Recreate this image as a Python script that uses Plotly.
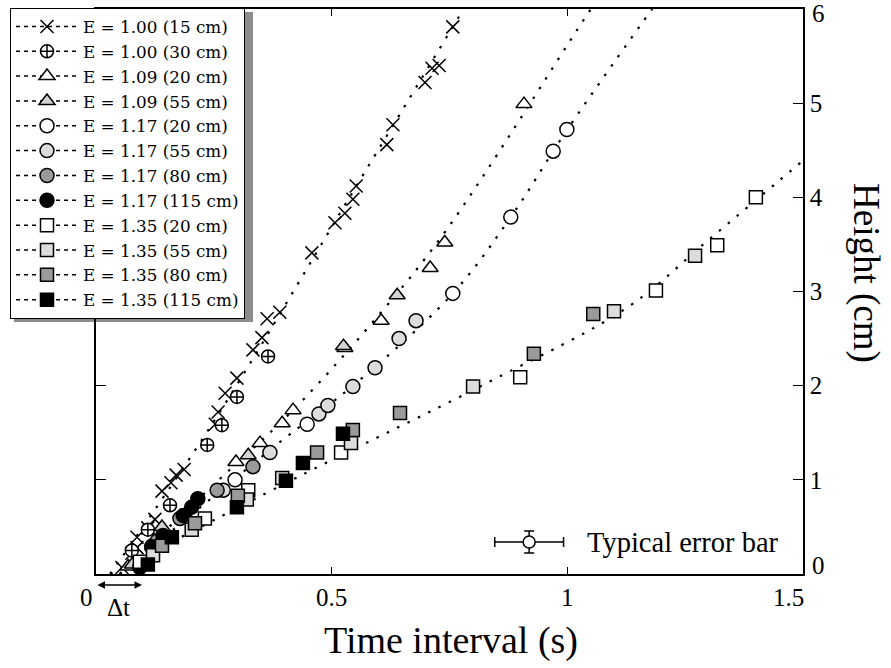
import plotly.graph_objects as go

# ---------------- data ----------------
t_e100_15 = [0.055, 0.076, 0.087, 0.087, 0.110, 0.125, 0.140, 0.159, 0.170, 0.187, 0.253, 0.259, 0.274, 0.299, 0.333, 0.352, 0.363, 0.390, 0.458, 0.507, 0.528, 0.545, 0.552, 0.617, 0.630, 0.698, 0.713, 0.728, 0.757]
h_e100_15 = [0.07, 0.22, 0.28, 0.39, 0.49, 0.58, 0.88, 0.97, 1.05, 1.11, 1.59, 1.72, 1.92, 2.08, 2.38, 2.51, 2.71, 2.78, 3.41, 3.73, 3.83, 3.98, 4.12, 4.56, 4.77, 5.22, 5.37, 5.40, 5.81]

t_e100_30 = [0.076, 0.110, 0.157, 0.236, 0.267, 0.299, 0.365]
h_e100_30 = [0.25, 0.47, 0.73, 1.37, 1.58, 1.88, 2.31]

t_e109_20 = [0.068, 0.297, 0.348, 0.395, 0.418, 0.528, 0.605, 0.709, 0.740, 0.908]
h_e109_20 = [0.08, 1.19, 1.39, 1.60, 1.74, 2.40, 2.69, 3.25, 3.52, 4.99]

t_e109_55 = [0.077, 0.14, 0.323, 0.525, 0.639]
h_e109_55 = [0.10, 0.50, 1.26, 2.42, 2.96]

t_e117_20 = [0.095, 0.295, 0.448, 0.757, 0.880, 0.970, 0.999]
h_e117_20 = [0.10, 1.00, 1.59, 2.98, 3.79, 4.49, 4.72]

t_e117_55 = [0.120, 0.27, 0.369, 0.473, 0.492, 0.545, 0.592, 0.643, 0.679]
h_e117_55 = [0.30, 0.89, 1.29, 1.70, 1.79, 1.99, 2.19, 2.50, 2.69]

t_e117_80 = [0.130, 0.178, 0.257, 0.333]
h_e117_80 = [0.35, 0.59, 0.89, 1.14]

t_e117_115 = [0.093, 0.118, 0.142, 0.185, 0.203, 0.216]
h_e117_115 = [0.07, 0.29, 0.41, 0.62, 0.71, 0.80]

t_e135_20 = [0.093, 0.231, 0.323, 0.520, 0.900, 1.188, 1.318, 1.400]
h_e135_20 = [0.13, 0.59, 0.89, 1.29, 2.09, 3.01, 3.49, 4.00]

t_e135_55 = [0.121, 0.203, 0.320, 0.395, 0.541, 0.800, 1.099, 1.271]
h_e135_55 = [0.20, 0.47, 0.79, 1.02, 1.39, 1.99, 2.79, 3.38]

t_e135_80 = [0.140, 0.210, 0.301, 0.469, 0.545, 0.645, 0.929, 1.055]
h_e135_80 = [0.30, 0.54, 0.83, 1.29, 1.53, 1.71, 2.34, 2.76]

t_e135_115 = [0.110, 0.161, 0.299, 0.403, 0.439, 0.524]
h_e135_115 = [0.10, 0.39, 0.71, 0.99, 1.18, 1.49]

# dotted guide lines
fit_a_t = [0.03, 0.25, 0.55, 0.78]
fit_a_h = [0.0, 1.62, 4.1, 6.0]
fit_b_t = [0.05, 0.25, 0.42, 0.60, 0.743, 1.021, 1.05]
fit_b_h = [0.0, 0.95, 1.75, 2.75, 3.65, 5.78, 6.0]
fit_c_t = [0.05, 0.20, 0.39, 0.55, 0.757, 0.88, 1.00, 1.18]
fit_c_h = [0.0, 0.62, 1.40, 2.02, 2.98, 3.79, 4.72, 6.0]
fit_d_t = [0.03, 0.44, 0.83, 1.13, 1.30, 1.50]
fit_d_h = [0.0, 1.06, 2.03, 2.84, 3.55, 4.39]

x_ticks = [0.5, 1.0]
x_tick_text = ["0.5", "1"]
y_ticks = [1, 2, 3, 4, 5]
y_tick_text = ["1", "2", "3", "4", "5"]

err_t, err_h, err_dt, err_dh = 0.919, 0.34, 0.073, 0.117

FONT = "Liberation Serif"
LEG_FONT = "DejaVu Serif"

series = [
    ("E = 1.00 (15 cm)", t_e100_15, h_e100_15, "x-thin-open", "black", 13),
    ("E = 1.00 (30 cm)", t_e100_30, h_e100_30, "circle-cross", "white", 13),
    ("E = 1.09 (20 cm)", t_e109_20, h_e109_20, "triangle-up", "white", 14),
    ("E = 1.09 (55 cm)", t_e109_55, h_e109_55, "triangle-up", "#d4d4d4", 14),
    ("E = 1.17 (20 cm)", t_e117_20, h_e117_20, "circle", "white", 14),
    ("E = 1.17 (55 cm)", t_e117_55, h_e117_55, "circle", "#dcdcdc", 14),
    ("E = 1.17 (80 cm)", t_e117_80, h_e117_80, "circle", "#9a9a9a", 14),
    ("E = 1.17 (115 cm)", t_e117_115, h_e117_115, "circle", "black", 14),
    ("E = 1.35 (20 cm)", t_e135_20, h_e135_20, "square", "white", 13),
    ("E = 1.35 (55 cm)", t_e135_55, h_e135_55, "square", "#dcdcdc", 13),
    ("E = 1.35 (80 cm)", t_e135_80, h_e135_80, "square", "#9a9a9a", 13),
    ("E = 1.35 (115 cm)", t_e135_115, h_e135_115, "square", "black", 13),
]

fig = go.Figure()

DOT = "2.5px,9px"
for ft, fh in [(fit_a_t, fit_a_h), (fit_b_t, fit_b_h), (fit_c_t, fit_c_h), (fit_d_t, fit_d_h)]:
    fig.add_trace(go.Scatter(x=ft, y=fh, mode="lines", showlegend=False, hoverinfo="skip",
                             line=dict(color="black", width=2.2, dash=DOT, shape="spline")))

for name, t, h, sym, col, sz in series:
    fig.add_trace(go.Scatter(
        x=t, y=h, mode="markers", showlegend=False, name=name,
        marker=dict(symbol=sym, color=col, size=sz,
                    line=dict(color="black", width=1.5))))

# legend entries
for name, t, h, sym, col, sz in series:
    fig.add_trace(go.Scatter(
        x=[None], y=[None], mode="lines+markers", name=name,
        line=dict(color="black", width=1.5, dash="4px,4px"),
        marker=dict(symbol=sym, color=col, size=sz,
                    line=dict(color="black", width=1.5))))

# typical error bar
fig.add_trace(go.Scatter(
    x=[err_t], y=[err_h], mode="markers", showlegend=False,
    marker=dict(symbol="circle", color="white", size=12, line=dict(color="black", width=1.5)),
    error_x=dict(type="constant", value=err_dt, color="black", thickness=1.5, width=5),
    error_y=dict(type="constant", value=err_dh, color="black", thickness=1.5, width=5)))

L, R, T, B = 96, 88, 9, 94
W, H = 891, 668
pw, ph = W - L - R, H - T - B


def px2paper_x(px):
    return (px - L) / pw


def px2paper_y(py):
    return (H - B - py) / ph


fig.update_layout(
    width=W, height=H,
    margin=dict(l=L, r=R, t=T, b=B, pad=0, autoexpand=False),
    paper_bgcolor="white", plot_bgcolor="white",
    font=dict(family=FONT, color="black", size=20),
    showlegend=True,
    legend=dict(x=px2paper_x(10), y=px2paper_y(8), xanchor="left", yanchor="top",
                bgcolor="white", bordercolor="black", borderwidth=1,
                font=dict(family=LEG_FONT, size=16.8), itemwidth=62, tracegroupgap=0),
    xaxis=dict(range=[0, 1.5], tickvals=x_ticks, ticktext=x_tick_text, ticks="inside",
               ticklen=7, tickwidth=1.2, tickcolor="black", showline=True, linecolor="black",
               linewidth=1.5, mirror="ticks", showgrid=False, zeroline=False,
               tickfont=dict(size=25, family=FONT)),
    yaxis=dict(range=[0, 6], tickvals=y_ticks, ticktext=y_tick_text, side="right", ticks="inside",
               ticklen=10, tickwidth=1.2, tickcolor="black", showline=True, linecolor="black",
               linewidth=1.5, mirror="ticks", showgrid=False, zeroline=False,
               tickfont=dict(size=25, family=FONT)),
)

# legend shadow
fig.add_shape(type="rect", xref="paper", yref="paper", layer="below",
              x0=px2paper_x(14), x1=px2paper_x(253), y0=px2paper_y(322), y1=px2paper_y(12),
              fillcolor="#8c8c8c", line=dict(width=0))


def txt(text, px, py, size, **kw):
    d = dict(text=text, x=px2paper_x(px), y=px2paper_y(py), xref="paper", yref="paper",
             showarrow=False, xanchor="center", yanchor="middle", font=dict(size=size))
    d.update(kw)
    return d


ann = [
    txt("0", 86, 597, 25),
    txt("1.5", 788, 597, 25),
    txt("0", 819, 565, 25),
    txt("6", 819, 13, 25),
    txt("Time interval (s)", 451, 640, 38),
    txt("Height (cm)", 866, 273, 37, textangle=90),
    txt("Typical error bar", 585, 542, 28.5, xanchor="left"),
    txt("Δt", 118, 607, 25),
]
# double-headed arrow for Δt
ann.append(dict(text="", x=px2paper_x(142), y=px2paper_y(585), ax=-46, ay=0,
                xref="paper", yref="paper", showarrow=True, arrowcolor="black",
                arrowhead=2, startarrowhead=2, arrowside="end+start", arrowwidth=1.5, arrowsize=1))
fig.update_layout(annotations=ann)

fig.write_html("out.html", config={"displayModeBar": False},
               post_script="document.body.style.margin='0';document.body.style.padding='0';")
